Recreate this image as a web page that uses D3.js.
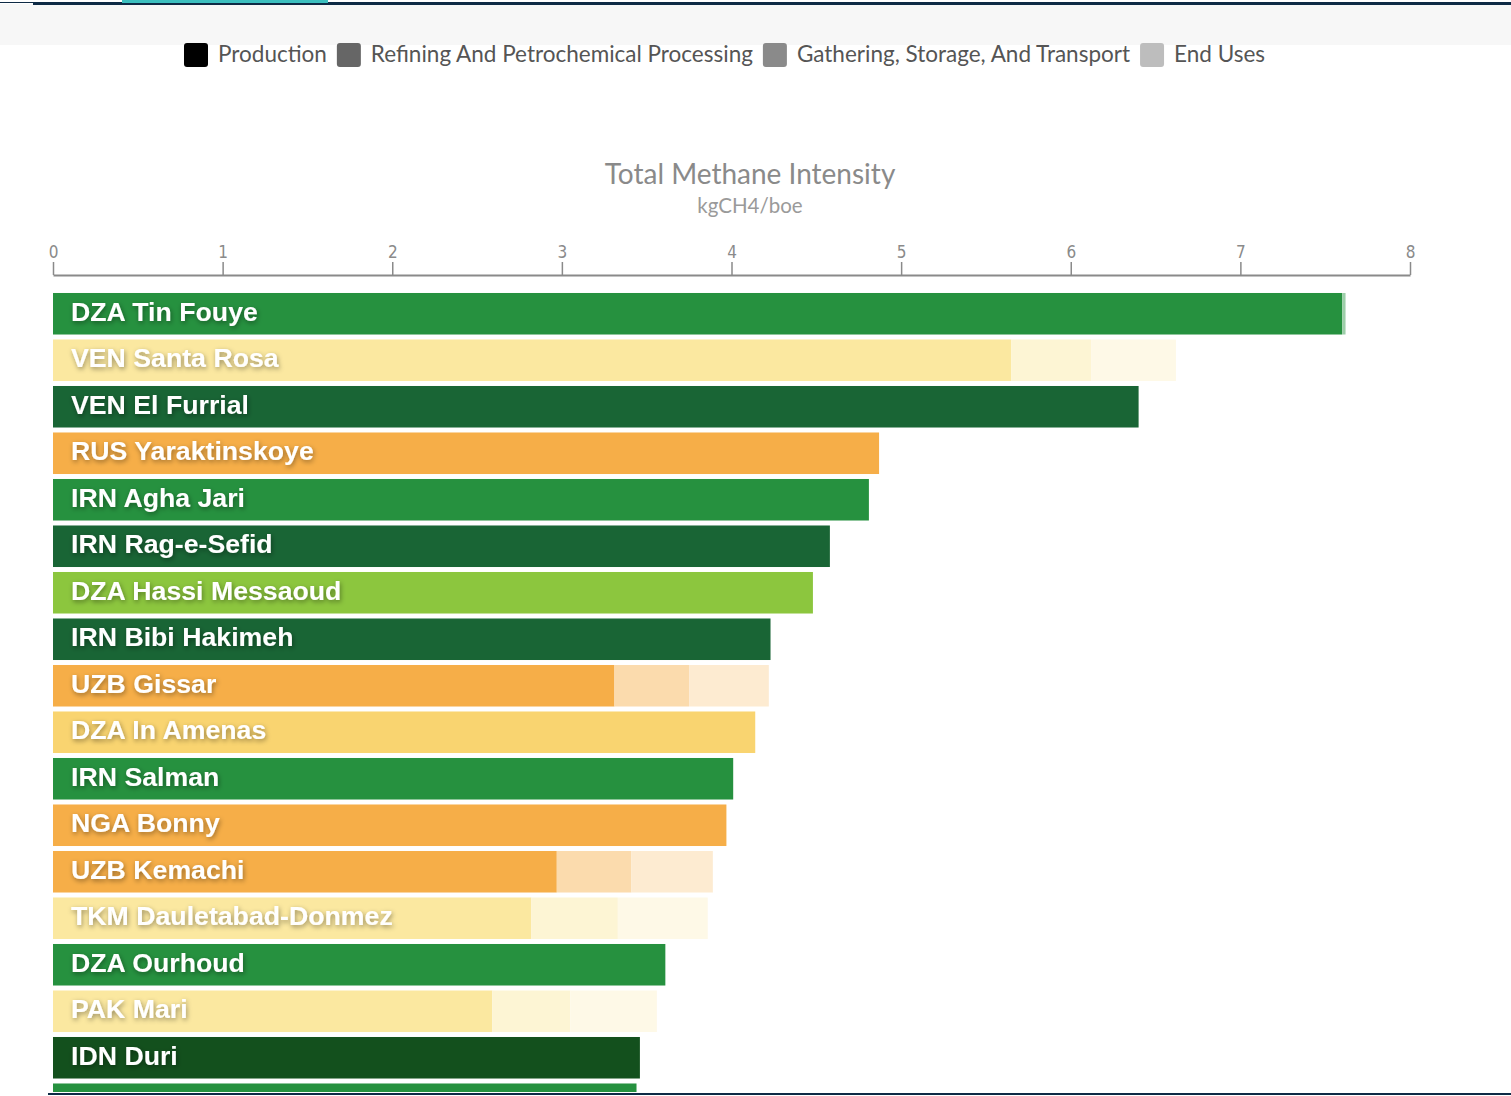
<!DOCTYPE html>
<meta charset="utf-8">
<head>
    <title>Total Methane Intensity</title>
    <script src="https://d3js.org/d3.v7.min.js"></script>
    <style>
        body { margin: 0; background: #fff; }
        svg { display: block; }
    </style>
</head>
<body>
<div id="chart"></div>
<script>
    // data (kgCH4/boe)
    var fields = ["DZA Tin Fouye", "VEN Santa Rosa", "VEN El Furrial", "RUS Yaraktinskoye",
        "IRN Agha Jari", "IRN Rag-e-Sefid", "DZA Hassi Messaoud", "IRN Bibi Hakimeh",
        "UZB Gissar", "DZA In Amenas", "IRN Salman", "NGA Bonny", "UZB Kemachi",
        "TKM Dauletabad-Donmez", "DZA Ourhoud", "PAK Mari", "IDN Duri", ""];
    var production = [7.60, 5.65, 6.40, 4.87, 4.81, 4.58, 4.48, 4.23, 3.31, 4.14, 4.01, 3.97, 2.97, 2.82, 3.61, 2.59, 3.46, 3.44];
    var refining   = [0, 0, 0, 0, 0, 0, 0, 0, 0, 0, 0, 0, 0, 0, 0, 0, 0, 0];
    var gathering  = [0.02, 0.47, 0, 0, 0, 0, 0, 0, 0.44, 0, 0, 0, 0.44, 0.51, 0, 0.46, 0, 0];
    var endUses    = [0, 0.50, 0, 0, 0, 0, 0, 0, 0.47, 0, 0, 0, 0.48, 0.53, 0, 0.51, 0, 0];
    var fieldColors = ["#26913f", "#fbe8a0", "#196535", "#f6ae48", "#26913f", "#196535",
        "#8cc63e", "#196535", "#f6ae48", "#f9d470", "#26913f", "#f6ae48", "#f6ae48",
        "#fbe8a0", "#26913f", "#fbe8a0", "#13501d", "#26913f"];
    var stages = ["Production", "Refining And Petrochemical Processing", "Gathering, Storage, And Transport", "End Uses"];
    var stageKeys = ["production", "refining", "gathering", "endUses"];
    var legendColors = ["#000000", "#666666", "#8a8a8a", "#bdbdbd"];
    var tickValues = [0, 1, 2, 3, 4, 5, 6, 7, 8];

    var W = 1511, H = 1096;
    var svg = d3.select("#chart").append("svg").attr("width", W).attr("height", H);

    var defs = svg.append("defs");
    defs.append("filter").attr("id", "shadow")
        .attr("x", "-10%").attr("y", "-40%").attr("width", "120%").attr("height", "180%")
        .append("feDropShadow")
        .attr("dx", 1).attr("dy", 2).attr("stdDeviation", 2.5)
        .attr("flood-color", "#000").attr("flood-opacity", 0.4);
    defs.append("clipPath").attr("id", "clip")
        .append("rect").attr("x", 0).attr("y", 0).attr("width", W).attr("height", 1092);

    // page chrome at the top
    svg.append("rect").attr("x", 0).attr("y", 4).attr("width", W).attr("height", 41).attr("fill", "#f7f7f7");
    svg.append("rect").attr("x", 0).attr("y", 2).attr("width", 34).attr("height", 1).attr("fill", "#0e2a45");
    svg.append("rect").attr("x", 33).attr("y", 2).attr("width", W - 33).attr("height", 3).attr("fill", "#0e2a45");
    svg.append("rect").attr("x", 122).attr("y", 0).attr("width", 206).attr("height", 3).attr("fill", "#3cbfbf");

    // legend
    var legend = svg.append("g").attr("transform", "translate(184,0)");
    var lx = 0;
    stages.forEach(function(s, i) {
        var g = legend.append("g").attr("transform", "translate(" + lx + ",0)");
        g.append("rect").attr("x", 0).attr("y", 43).attr("width", 24).attr("height", 24).attr("rx", 3)
            .attr("fill", legendColors[i]);
        var t = g.append("text").attr("x", 34).attr("y", 62)
            .style("font-family", "Lato, sans-serif").style("font-size", "22.5px")
            .attr("fill", "#555").text(s);
        lx += 34 + t.node().getComputedTextLength() + 10;
    });

    // titles
    svg.append("text").attr("x", 750).attr("y", 184).attr("text-anchor", "middle")
        .style("font-family", "Lato, sans-serif").style("font-size", "28px")
        .attr("fill", "#8a8a8a").text("Total Methane Intensity");
    svg.append("text").attr("x", 750).attr("y", 213).attr("text-anchor", "middle")
        .style("font-family", "Lato, sans-serif").style("font-size", "20.5px")
        .attr("fill", "#9a9a9a").text("kgCH4/boe");

    // scales
    var x = d3.scaleLinear().domain([0, 8]).range([53, 1410]);
    var rows = fields.map(function(f, i) { return "r" + i; });
    var y = d3.scaleBand().domain(rows).range([290.5, 290.5 + rows.length * 46.5])
        .paddingInner(0.107).paddingOuter(0.0535);

    // axis
    var axis = svg.append("g").attr("transform", "translate(0,275)")
        .call(d3.axisTop(x).tickValues(tickValues).tickSize(13).tickSizeOuter(0).tickPadding(4));
    axis.select(".domain").attr("stroke", "#8a8a8a").attr("stroke-width", 2);
    axis.selectAll(".tick line").attr("stroke", "#8a8a8a").attr("stroke-width", 1.5);
    axis.selectAll(".tick text").attr("fill", "#8a8a8a")
        .style("font-family", "'DejaVu Sans Condensed', 'DejaVu Sans', sans-serif")
        .style("font-size", "17px").style("font-stretch", "condensed");

    // stacked bars
    var table = fields.map(function(f, i) {
        return { row: "r" + i, name: f, color: fieldColors[i],
            production: production[i], refining: refining[i], gathering: gathering[i], endUses: endUses[i] };
    });
    var stacked = d3.stack().keys(stageKeys)(table);
    var tint = { production: 0, refining: 0.35, gathering: 0.55, endUses: 0.75 };

    var plot = svg.append("g").attr("clip-path", "url(#clip)");
    stacked.forEach(function(layer) {
        plot.selectAll(".seg-" + layer.key)
            .data(layer.filter(function(d) { return d[1] - d[0] > 0; }))
            .enter().append("rect")
            .attr("x", function(d) { return x(d[0]); })
            .attr("y", function(d) { return y(d.data.row); })
            .attr("width", function(d) { return x(d[1]) - x(d[0]); })
            .attr("height", y.bandwidth())
            .attr("fill", function(d) { return d3.interpolateRgb(d.data.color, "#ffffff")(tint[layer.key]); });
    });

    plot.selectAll(".label")
        .data(table)
        .enter().append("text")
        .attr("x", 71)
        .attr("y", function(d) { return y(d.row) + 28; })
        .attr("fill", "#fff")
        .attr("filter", "url(#shadow)")
        .style("font-family", "'Liberation Sans', Arial, sans-serif")
        .style("font-weight", "bold")
        .style("font-size", "26.7px")
        .text(function(d) { return d.name; });

    // bottom border
    svg.append("rect").attr("x", 48).attr("y", 1093).attr("width", W - 48).attr("height", 2).attr("fill", "#0e2a45");
</script>
</body>
